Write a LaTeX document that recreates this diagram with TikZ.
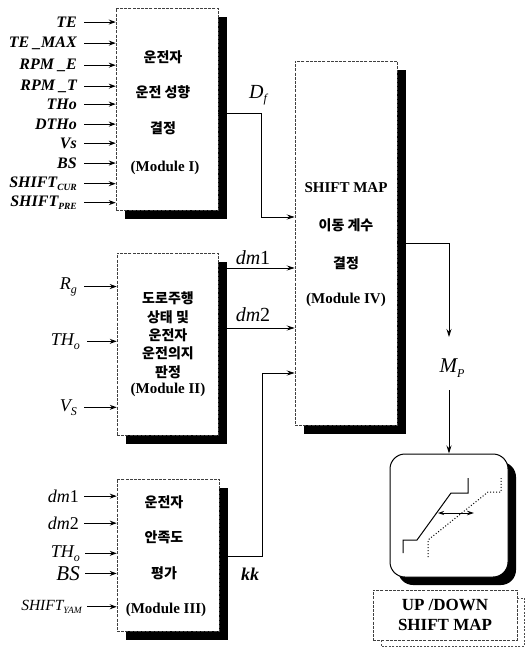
\documentclass[tikz,border=0pt]{standalone}
\usepackage{fontspec}
\setmainfont{Liberation Serif}
\newfontfamily\kr{Noto Sans CJK KR}
\usetikzlibrary{arrows.meta,shadows}
\newcommand\lowtxt[1]{\raisebox{-0.45ex}{\fontsize{9.5}{9.5}\selectfont #1}}
\newcommand\lowbig[1]{\raisebox{-0.45ex}{\fontsize{12}{12}\selectfont #1}}
\tikzset{
 modbox/.style={draw=black!75, dash pattern=on 3pt off 1.2pt, line width=0.5pt, fill=white,
   drop shadow={shadow xshift=9pt, shadow yshift=-9pt, fill=black, opacity=1}},
 inlab/.style={anchor=mid east, inner sep=0pt, font=\fontsize{16}{16}\selectfont\bfseries\itshape},
 inlabr/.style={anchor=mid east, inner sep=0pt, font=\fontsize{18}{18}\selectfont\itshape},
 inarr/.style={-{Stealth[length=7pt,width=5pt]}, line width=1pt},
 arr/.style={-{Stealth[length=8pt,width=5pt]}, line width=0.8pt},
 krtxt/.style={font=\kr\bfseries\fontsize{14}{14}\selectfont, inner sep=0pt},
 modtxt/.style={font=\bfseries\fontsize{15}{15}\selectfont, inner sep=0pt},
 mlab/.style={inner sep=0pt, font=\fontsize{20}{20}\selectfont\itshape},
}
\begin{document}
\begin{tikzpicture}[x=1pt,y=-1pt]
\useasboundingbox (0,0) rectangle (526,650);

% module boxes
\node[modbox, minimum width=102pt, minimum height=202pt] (m1) at (167,109) {};
\node[modbox, minimum width=101pt, minimum height=182pt] (m2) at (167.5,344) {};
\node[modbox, minimum width=102pt, minimum height=152pt] (m3) at (168,555) {};
\node[modbox, minimum width=102pt, minimum height=364pt] (m4) at (346,243) {};

% module I text
\node[krtxt] (t1a) at (163,57) {운전자};
\node[krtxt] (t1b) at (163,92) {운전 성향};
\node[krtxt] (t1c) at (163,128) {결정};
\node[modtxt] (t1d) at (165,168) {(Module I)};

% module II text
\node[krtxt] (t2a) at (168,298) {도로주행};
\node[krtxt] (t2b) at (168,317) {상태 및};
\node[krtxt] (t2c) at (168,335) {운전자};
\node[krtxt] (t2d) at (168,353) {운전의지};
\node[krtxt] (t2e) at (168,372) {판정};
\node[modtxt] (t2f) at (168,390) {(Module II)};

% module III text
\node[krtxt] (t3a) at (164,502) {운전자};
\node[krtxt] (t3b) at (164,537) {안족도};
\node[krtxt] (t3c) at (164,573) {평가};
\node[modtxt] (t3d) at (166,610) {(Module III)};

% module IV text
\node[modtxt] (t4a) at (346,188) {SHIFT MAP};
\node[krtxt] (t4b) at (346,225) {이동 계수};
\node[krtxt] (t4c) at (346,263) {결정};
\node[modtxt] (t4d) at (346,300) {(Module IV)};

% module I inputs
\node[inlab] (a1) at (77,25) {TE};
\node[inlab] (a2) at (77,45) {TE \_MAX};
\node[inlab] (a3) at (77,67) {RPM \_E};
\node[inlab] (a4) at (77,88) {RPM \_T};
\node[inlab] (a5) at (77,107) {THo};
\node[inlab] (a6) at (77,127) {DTHo};
\node[inlab] (a7) at (77,146) {Vs};
\node[inlab] (a8) at (77,166) {BS};
\node[inlab] (a9) at (77,185) {SHIFT\lowtxt{CUR}};
\node[inlab] (a10) at (77,204) {SHIFT\lowtxt{PRE}};
\foreach \n in {a1,a2,a3,a4,a5,a6,a7,a8,a9,a10}
  \draw[inarr] ([xshift=7pt]\n.east) -- (\n.east -| m1.west);

% module II inputs
\node[inlabr] (b1) at (77,287) {R\lowbig{g}};
\node[inlabr] (b2) at (80,343) {TH\lowbig{o}};
\node[inlabr] (b3) at (77,409) {V\lowbig{S}};
\foreach \n in {b1,b2,b3}
  \draw[inarr] ([xshift=7pt]\n.east) -- (\n.east -| m2.west);

% module III inputs
\node[inlabr] (c1) at (79,500) {\textit{dm}\textup{1}};
\node[inlabr] (c2) at (79,527) {\textit{dm}\textup{2}};
\node[inlabr] (c3) at (80,555) {TH\lowbig{o}};
\node[inlabr, font=\fontsize{21}{21}\selectfont\itshape] (c4) at (80,578) {BS};
\node[inlabr, font=\fontsize{15.5}{15.5}\selectfont\itshape] (c5) at (82,608) {SHIFT\lowtxt{YAM}};
\foreach \n in {c1,c2,c3,c4,c5}
  \draw[inarr] ([xshift=5pt]\n.east) -- (\n.east -| m3.west);

% outputs to module IV
\node[mlab] (df) at (258,95) {D\lowbig{f}};
\coordinate (dfb) at (261,113);
\draw[arr] (m1.east |- dfb) -- (dfb) |- (m4.west |- 0,217);

\node[mlab] (dm1) at (253,258) {\textit{dm}\textup{1}};
\draw[arr] (m2.east |- 0,268) -- (m4.west |- 0,268);
\node[mlab] (dm2) at (253,315) {\textit{dm}\textup{2}};
\draw[arr] (m2.east |- 0,328) -- (m4.west |- 0,328);

\node[mlab, font=\fontsize{18}{18}\selectfont\bfseries\itshape] (kk) at (250,574) {kk};
\coordinate (kkb) at (262,373);
\draw[arr] (m3.east |- 0,556) -| (kkb) -- (m4.west |- kkb);

% M_P
\node[mlab, font=\fontsize{21}{21}\selectfont\itshape] (mp) at (452,368) {M\lowbig{P}};
\coordinate (mpin) at (449,337);
\coordinate (mpout) at (449,390);
\node[draw, line width=1pt, fill=white, rounded corners=15pt, minimum width=118pt, minimum height=123pt,
  drop shadow={shadow xshift=8pt, shadow yshift=-8pt, fill=black, opacity=1}] (map) at (449,515.5) {};
\draw[arr] (m4.east |- 0,243) -| (mpin);
\draw[arr] (mpout) -- (map.north);

% shift map sketch
\draw[line width=1pt] (403,553) -- (403,540) -- (417,540) -- (451,493) -- (468,493) -- (468,478);
\draw[line width=1pt, dotted] (428,557) -- (428,540) -- (488,492) -- (501,492) -- (501,478);
\draw[{Stealth[length=6pt,width=4pt]}-{Stealth[length=7pt,width=4.5pt]}, line width=0.9pt] (438,513) -- (474,513);

% label box
\node[draw=black!75, dash pattern=on 3pt off 1.2pt, line width=0.5pt, fill=white, minimum width=144pt, minimum height=50pt] (lbl) at (445,615) {};
\draw[black!70, dash pattern=on 2pt off 1.5pt, line width=0.5pt] (lbl.north east) ++(0,-8pt) -- ++(7pt,0) |- ([shift={(8pt,-6pt)}]lbl.south west) -- ([xshift=8pt]lbl.south west);
\node[modtxt, font=\bfseries\fontsize{17}{17}\selectfont] (lu) at (445,605) {UP /DOWN};
\node[modtxt, font=\bfseries\fontsize{17}{17}\selectfont] (ld) at (445,625) {SHIFT MAP};
\end{tikzpicture}
\end{document}
